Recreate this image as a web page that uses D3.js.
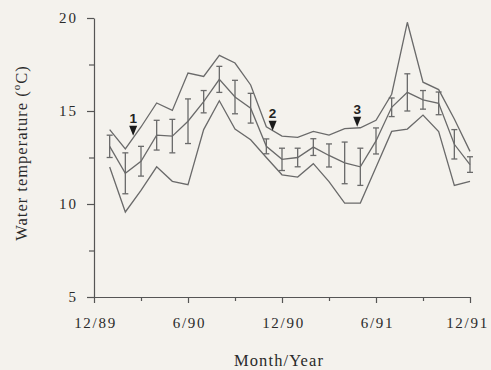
<!DOCTYPE html>
<html>
<head>
<meta charset="utf-8">
<script src="https://cdn.jsdelivr.net/npm/d3@7"></script>
<style>
  html, body { margin: 0; padding: 0; background: #f4f2ed; }
  svg { display: block; }
  text { font-family: "Liberation Serif", "DejaVu Serif", serif; fill: #2a2a2a; }
</style>
</head>
<body>
<svg id="chart" width="491" height="370"></svg>
<script>
// ---- data (months since 12/89) ----
const months = [1,2,3,4,5,6,7,8,9,10,11,12,13,14,15,16,17,18,19,20,21,22,23,24];
const meanTemp = [13.1,11.65,12.3,13.7,13.65,14.45,15.5,16.7,15.75,15.15,13.1,12.4,12.5,13.06,12.61,12.21,12.0,13.39,15.2,16.0,15.6,15.41,13.21,12.12];
const errTemp  = [0.6,1.1,0.8,0.8,0.9,1.2,0.6,0.7,0.9,0.8,0.4,0.6,0.5,0.45,0.62,1.12,1.0,0.7,0.5,1.0,0.5,0.61,0.79,0.42];
const maxTemp  = [14.0,12.96,14.14,15.43,15.03,17.04,16.86,17.99,17.58,16.4,14.15,13.65,13.58,13.9,13.7,14.05,14.1,14.5,15.9,19.77,16.55,16.15,14.57,12.83];
const minTemp  = [11.99,9.57,10.73,12.0,11.22,11.04,14.0,15.55,14.03,13.45,12.5,11.57,11.45,12.17,11.2,10.05,10.05,11.97,13.9,14.03,14.78,13.9,11.0,11.22];

const xTickValues = [0,6,12,18,24];
const xTickLabels = ["12/89","6/90","12/90","6/91","12/91"];
const xMinorTicks = [3,9,15,21];
const yTickValues = [5,10,15,20];
const yMinorTicks = [7.5,12.5,17.5];

const arrowMonths = [2.5, 11.4, 16.8];
const arrowTips   = [13.67, 13.94, 14.15];
const arrowLabels = ["1","2","3"];

// ---- layout ----
const svg = d3.select("#chart");
const x = d3.scaleLinear().domain([0,24]).range([94,470]);
const y = d3.scaleLinear().domain([5,20]).range([297,18]);

const lineCol = "#6a6a6a";
const axisCol = "#555";

// axes
const xAxis = d3.axisBottom(x).tickValues(xTickValues)
  .tickFormat((d,i) => xTickLabels[i]).tickSize(6).tickPadding(14).tickSizeOuter(0);
const gx = svg.append("g").attr("transform", `translate(0,${y(5)})`).call(xAxis);
gx.selectAll("text").style("font-size","15px").style("letter-spacing","1.7px")
  .attr("dx", d => d === 24 ? -3 : 1);
svg.append("g").attr("transform", `translate(0,${y(5)})`)
  .call(d3.axisBottom(x).tickValues(xMinorTicks).tickFormat("").tickSize(4).tickSizeOuter(0))
  .select(".domain").remove();

const yAxis = d3.axisLeft(y).tickValues(yTickValues).tickSize(7).tickPadding(9).tickSizeOuter(0);
const gy = svg.append("g").attr("transform", `translate(${x(0)},0)`).call(yAxis);
gy.selectAll("text").style("font-size","15px").style("letter-spacing","2px");
svg.append("g").attr("transform", `translate(${x(0)},0)`)
  .call(d3.axisLeft(y).tickValues(yMinorTicks).tickFormat("").tickSize(5).tickSizeOuter(0))
  .select(".domain").remove();

svg.selectAll(".domain, .tick line").attr("stroke", axisCol).attr("stroke-width", 1.2);

// lines
const idx = d3.range(months.length);
const line = arr => d3.line().x(i => x(months[i])).y(i => y(arr[i]))(idx);
[maxTemp, minTemp, meanTemp].forEach(arr => {
  svg.append("path").attr("d", line(arr)).attr("fill","none")
    .attr("stroke", lineCol).attr("stroke-width", 1.3).attr("stroke-linejoin","miter");
});

// error bars
const eb = svg.append("g").attr("stroke", lineCol).attr("stroke-width", 1.3);
idx.forEach(i => {
  const cx = x(months[i]);
  const t = y(meanTemp[i] + errTemp[i]);
  const b = y(meanTemp[i] - errTemp[i]);
  eb.append("line").attr("x1",cx).attr("x2",cx).attr("y1",t).attr("y2",b);
  eb.append("line").attr("x1",cx-3).attr("x2",cx+3).attr("y1",t).attr("y2",t);
  eb.append("line").attr("x1",cx-3).attr("x2",cx+3).attr("y1",b).attr("y2",b);
});

// arrows
arrowMonths.forEach((m,i) => {
  const ax = x(m), ay = y(arrowTips[i]);
  svg.append("path")
    .attr("d", `M${ax-4},${ay-10}L${ax+4},${ay-10}L${ax},${ay}Z`)
    .attr("fill", "#1a1a1a");
  svg.append("text").attr("x", ax).attr("y", ay-13)
    .attr("text-anchor","middle")
    .style("font-family","'Liberation Sans', Arial, sans-serif")
    .style("font-size","13.5px").style("font-weight","bold")
    .style("fill","#222")
    .text(arrowLabels[i]);
});

// axis titles
svg.append("text").attr("x", 279).attr("y", 366)
  .attr("text-anchor","middle")
  .style("font-size","16.5px").style("letter-spacing","1.1px")
  .text("Month/Year");

const yl = svg.append("text")
  .attr("transform","translate(27,153) rotate(-90)")
  .attr("text-anchor","middle")
  .style("font-size","16.5px").style("letter-spacing","1px");
yl.append("tspan").text("Water temperature (");
yl.append("tspan").attr("dy","-7").style("font-size","11px").text("o");
yl.append("tspan").attr("dy","7").text("C)");
</script>
</body>
</html>
